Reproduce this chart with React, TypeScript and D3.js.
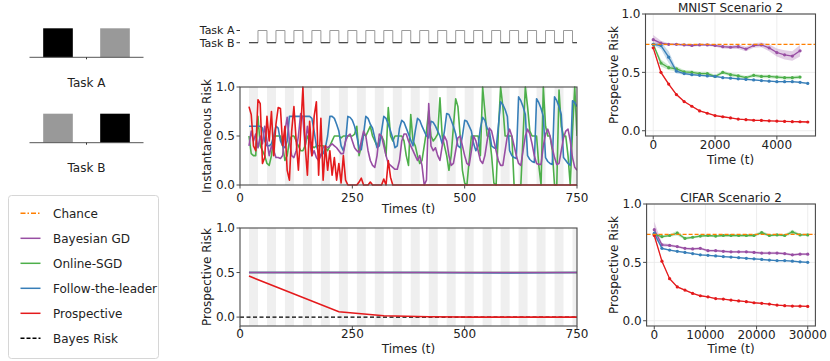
import React from 'react';
import * as d3 from 'd3';

const FONT = "'DejaVu Sans', sans-serif";

const COLORS = {
  chance: '#ff7f00',
  bgd: '#984ea3',
  sgd: '#4daf4a',
  ftl: '#377eb8',
  pro: '#e41a1c',
};

// task schedule, one entry per 20-step block from t = 20 (1 = Task A, 0 = Task B)
const taskBlocks = [
  0, 1, 0, 1, 0, 1, 0, 1, 0, 1, 0, 1, 0, 1, 0, 1, 0, 1, 0,
  1, 0, 1, 0, 1, 0, 1, 0, 1, 0, 1, 0, 1, 0, 1, 0, 1, 0,
];

// icon bars (class probabilities) for the two tasks
const iconHeights = [1, 1];
const iconShadeA = ['#000000', '#999999'];
const iconShadeB = ['#999999', '#000000'];

// instantaneous risk, sampled every 5 steps from t = 20 to 750
const instTimes = d3.range(20, 751, 5);
const instFTL = [
  0.6, 0.6, 0.6, 0.6, 0.6, 0.6, 0.58, 0.45,
  0.4, 0.4, 0.42, 0.5, 0.6, 0.58, 0.45, 0.4,
  0.38, 0.45, 0.7, 0.7, 0.7, 0.7, 0.7, 0.7,
  0.7, 0.7, 0.7, 0.7, 0.68, 0.55, 0.4, 0.33,
  0.3, 0.32, 0.38, 0.5, 0.7, 0.7, 0.68, 0.62,
  0.55, 0.4, 0.35, 0.45, 0.7, 0.69, 0.66, 0.6,
  0.5, 0.38, 0.36, 0.52, 0.7, 0.68, 0.62, 0.58,
  0.48, 0.38, 0.4, 0.55, 0.7, 0.68, 0.62, 0.55,
  0.48, 0.38, 0.4, 0.58, 0.66, 0.64, 0.58, 0.52,
  0.46, 0.4, 0.55, 0.68, 0.66, 0.6, 0.55, 0.5,
  0.48, 0.65, 0.64, 0.6, 0.55, 0.5, 0.42, 0.55,
  0.73, 0.72, 0.66, 0.6, 0.52, 0.4, 0.38, 0.5,
  0.66, 0.65, 0.6, 0.55, 0.42, 0.35, 0.4, 0.58,
  0.69, 0.66, 0.58, 0.55, 0.4, 0.38, 0.37, 0.6,
  0.85, 0.82, 0.77, 0.7, 0.35, 0.3, 0.28, 0.27,
  0.9, 0.86, 0.8, 0.72, 0.3, 0.26, 0.24, 0.23,
  0.88, 0.84, 0.78, 0.7, 0.28, 0.24, 0.22, 0.21,
  0.9, 0.86, 0.8, 0.72, 0.28, 0.25, 0.22, 0.2,
  0.86, 0.84, 0.8,
];
const instSGD = [
  0.5, 0.32, 0.3, 0.3, 0.7, 0.4, 0.35, 0.3,
  0.22, 0.2, 0.3, 0.5, 0.5, 0.5, 0.5, 0.4,
  0.25, 0.3, 0.45, 0.5, 0.5, 0.45, 0.4, 0.35,
  0.35, 0.4, 0.5, 0.45, 0.4, 0.38, 0.4, 0.4,
  0.4, 0.4, 0.38, 0.35, 0.4, 0.45, 0.5, 0.5,
  0.5, 0.48, 0.5, 0.5, 0.5, 0.5, 0.5, 0.52,
  0.6, 0.3, 0.4, 0.52, 0.5, 0.55, 0.6, 0.5,
  0.45, 0.4, 0.45, 0.5, 0.45, 0.3, 0.79, 0.5,
  0.45, 0.5, 0.5, 0.5, 0.5, 0.45, 0.3, 0.2,
  0.72, 0.45, 0.4, 0.3, 0.22, 0.25, 0.4, 0.55,
  0.76, 0.5, 0.45, 0.48, 0.52, 0.89, 0.5, 0.4,
  0.3, 0.15, 0.3, 0.6, 0.88, 0.8, 0.5, 0.15,
  0.02, 0.0, 0.25, 0.5, 0.5, 0.5, 0.5, 0.3,
  1.0, 0.75, 0.5, 0.5, 0.3, 0.02, 0.0, 0.55,
  1.0, 0.8, 0.5, 0.5, 0.5, 0.5, 0.0, 0.0,
  0.0, 0.0, 0.5, 1.0, 0.8, 0.55, 0.5, 0.5,
  0.5, 0.2, 0.0, 1.0, 0.6, 0.5, 0.5, 0.35,
  0.0, 0.0, 0.97, 0.6, 0.5, 0.5, 0.3, 0.0,
  0.55, 1.0, 0.5,
];
const instBGD = [
  0.4, 0.55, 0.45, 0.52, 0.38, 0.5, 0.42, 0.6,
  0.45, 0.3, 0.4, 0.35, 0.28, 0.28, 0.27, 0.3,
  0.55, 0.69, 0.45, 0.3, 0.28, 0.35, 0.5, 0.73,
  0.68, 0.4, 0.6, 0.45, 0.3, 0.35, 0.28, 0.25,
  0.3, 0.38, 0.4, 0.38, 0.4, 0.42, 0.4, 0.38,
  0.35, 0.32, 0.32, 0.45, 0.5, 0.52, 0.45, 0.38,
  0.35, 0.33, 0.45, 0.55, 0.5, 0.35, 0.25, 0.2,
  0.18, 0.3, 0.52, 0.5, 0.4, 0.3, 0.22, 0.2,
  0.18, 0.16, 0.16, 0.25, 0.45, 0.52, 0.52, 0.45,
  0.4, 0.35, 0.3, 0.25, 0.3, 0.2, 0.0, 0.05,
  0.83, 0.4, 0.35, 0.38, 0.3, 0.25, 0.4, 0.5,
  0.45, 0.3, 0.2, 0.22, 0.35, 0.48, 0.5, 0.4,
  0.3, 0.22, 0.2, 0.35, 0.5, 0.45, 0.35, 0.25,
  0.22, 0.3, 0.45, 0.58, 0.55, 0.45, 0.35, 0.25,
  0.2, 0.2, 0.35, 0.5, 0.57, 0.5, 0.4, 0.3,
  0.22, 0.2, 0.35, 0.5, 0.57, 0.52, 0.42, 0.3,
  0.22, 0.21, 0.21, 0.4, 0.52, 0.57, 0.5, 0.38,
  0.28, 0.21, 0.22, 0.35, 0.48, 0.55, 0.57, 0.45,
  0.28, 0.18, 0.15,
];
const instProTimes = [...d3.range(20, 341, 5), 750];
const instPro = [
  0.8, 0.72, 0.4, 0.35, 0.87, 0.83, 0.22, 0.28,
  0.7, 0.45, 0.75, 0.3, 0.62, 0.79, 0.78, 0.4,
  0.6, 0.15, 0.05, 0.55, 0.8, 0.45, 0.15, 0.55,
  1.0, 0.4, 0.1, 0.65, 0.3, 0.7, 0.85, 0.1,
  0.68, 0.05, 0.4, 0.15, 0.35, 0.1, 0.28, 0.05,
  0.22, 0.02, 0.3, 0.05, 0.0, 0.0, 0.0, 0.0,
  0.0, 0.03, 0.07, 0.0, 0.0, 0.0, 0.03, 0.0,
  0.0, 0.0, 0.0, 0.0, 0.06, 0.0, 0.25, 0.08,
  0.0, 0.0,
];

// prospective risk on the synthetic task
const proTimes = [20, 220, 320, 420, 520, 620, 750];
const proPro = [0.46, 0.06, 0.015, 0.003, 0.0, 0.0, 0.0];
const proFlatTimes = [20, 200, 400, 600, 750];
const proBGD = [0.5, 0.5, 0.5, 0.5, 0.5];
const proSGD = [0.5, 0.5, 0.5, 0.5, 0.5];
const proFTL = [0.5, 0.5, 0.5, 0.495, 0.5];

// MNIST scenario 2
const mnTimes = d3.range(0, 5001, 250);
const mnPro = [0.71, 0.5, 0.4, 0.31, 0.25, 0.21, 0.17, 0.15, 0.13, 0.12, 0.11, 0.1, 0.095, 0.09, 0.088, 0.085, 0.083, 0.08, 0.078, 0.077, 0.075];
const mnProErr = [0.015, 0.012, 0.01, 0.008, 0.006, 0.005, 0.005, 0.005, 0.004, 0.004, 0.004, 0.004, 0.004, 0.004, 0.004, 0.004, 0.004, 0.004, 0.004, 0.004, 0.004];
const mnFTL = [0.74, 0.73, 0.63, 0.51, 0.49, 0.48, 0.475, 0.47, 0.465, 0.455, 0.45, 0.445, 0.44, 0.435, 0.43, 0.425, 0.42, 0.42, 0.42, 0.415, 0.405];
const mnFTLErr = [0.01, 0.03, 0.05, 0.02, 0.01, 0.008, 0.006, 0.006, 0.006, 0.006, 0.006, 0.006, 0.006, 0.006, 0.006, 0.006, 0.006, 0.006, 0.006, 0.006, 0.006];
const mnSGD = [0.74, 0.58, 0.54, 0.53, 0.505, 0.5, 0.49, 0.49, 0.465, 0.5, 0.48, 0.47, 0.455, 0.475, 0.465, 0.465, 0.46, 0.455, 0.455, 0.46];
const mnSGDErr = [0.01, 0.03, 0.02, 0.02, 0.015, 0.015, 0.015, 0.015, 0.015, 0.015, 0.015, 0.015, 0.015, 0.015, 0.015, 0.015, 0.015, 0.015, 0.015, 0.015];
const mnBGD = [0.78, 0.75, 0.74, 0.74, 0.735, 0.73, 0.735, 0.735, 0.73, 0.72, 0.715, 0.72, 0.7, 0.73, 0.735, 0.71, 0.67, 0.65, 0.64, 0.685];
const mnBGDErr = [0.04, 0.02, 0.01, 0.01, 0.01, 0.01, 0.01, 0.01, 0.01, 0.015, 0.015, 0.02, 0.02, 0.02, 0.02, 0.03, 0.035, 0.04, 0.04, 0.05];

// CIFAR scenario 2
const cfTimes = d3.range(0, 30001, 1500);
const cfPro = [0.73, 0.51, 0.36, 0.29, 0.263, 0.234, 0.214, 0.205, 0.19, 0.186, 0.177, 0.17, 0.163, 0.154, 0.149, 0.143, 0.134, 0.129, 0.126, 0.125, 0.123];
const cfProErr = [0.01, 0.01, 0.008, 0.006, 0.005, 0.005, 0.005, 0.005, 0.005, 0.005, 0.005, 0.005, 0.005, 0.005, 0.005, 0.005, 0.005, 0.005, 0.005, 0.005, 0.005];
const cfFTL = [0.75, 0.62, 0.605, 0.595, 0.585, 0.575, 0.565, 0.56, 0.555, 0.55, 0.545, 0.54, 0.535, 0.53, 0.525, 0.52, 0.515, 0.515, 0.51, 0.505, 0.5];
const cfFTLErr = [0.02, 0.008, 0.006, 0.006, 0.006, 0.006, 0.006, 0.006, 0.006, 0.006, 0.006, 0.006, 0.006, 0.006, 0.006, 0.006, 0.006, 0.006, 0.006, 0.006, 0.006];
const cfSGD = [0.74, 0.72, 0.73, 0.75, 0.705, 0.715, 0.725, 0.73, 0.725, 0.73, 0.73, 0.73, 0.73, 0.73, 0.755, 0.73, 0.735, 0.73, 0.76, 0.735, 0.735];
const cfSGDErr = [0.015, 0.01, 0.01, 0.02, 0.012, 0.01, 0.01, 0.01, 0.01, 0.01, 0.01, 0.01, 0.01, 0.01, 0.015, 0.01, 0.01, 0.01, 0.02, 0.01, 0.01];
const cfBGD = [0.78, 0.65, 0.645, 0.635, 0.62, 0.615, 0.62, 0.6, 0.6, 0.595, 0.59, 0.59, 0.59, 0.585, 0.58, 0.58, 0.58, 0.575, 0.565, 0.57, 0.57];
const cfBGDErr = [0.07, 0.015, 0.012, 0.01, 0.01, 0.01, 0.01, 0.01, 0.01, 0.01, 0.01, 0.01, 0.01, 0.01, 0.01, 0.01, 0.01, 0.01, 0.01, 0.01, 0.01];

const chanceLevel = 0.74;

const legendItems = [
  { label: 'Chance', color: COLORS.chance, dash: '5,2,1.5,2' },
  { label: 'Bayesian GD', color: COLORS.bgd, dash: '' },
  { label: 'Online-SGD', color: COLORS.sgd, dash: '' },
  { label: 'Follow-the-leader', color: COLORS.ftl, dash: '' },
  { label: 'Prospective', color: COLORS.pro, dash: '' },
  { label: 'Bayes Risk', color: '#000000', dash: '4,2' },
];

const riskTicks = [0, 0.5, 1.0];
const timeTicks = [0, 250, 500, 750];
const mnTicks = [0, 2000, 4000];
const cfTicks = [0, 10000, 20000, 30000];

type Lin = d3.ScaleLinear<number, number>;

const SPINE = '#4a4a4a';

function Axes({ x, y, xTicks, yTicks, xLabel, yLabel, xTickBase, xLabelBase, yLabelX }: {
  x: Lin; y: Lin; xTicks: number[]; yTicks: number[]; xLabel: string; yLabel: string;
  xTickBase: number; xLabelBase: number; yLabelX: number;
}) {
  const [x0, x1] = x.range();
  const [y0, y1] = y.range();
  const fmt = d3.format('.1f');
  return (
    <g fontFamily={FONT} fontSize={12} fill="#222">
      {xTicks.map(t => (
        <g key={'x' + t}>
          <line x1={x(t)} x2={x(t)} y1={y0} y2={y0 + 3.5} stroke={SPINE} strokeWidth={1} />
          <text x={x(t)} y={xTickBase} textAnchor="middle">{t}</text>
        </g>
      ))}
      {yTicks.map(t => (
        <g key={'y' + t}>
          <line x1={x0 - 3.5} x2={x0} y1={y(t)} y2={y(t)} stroke={SPINE} strokeWidth={1} />
          <text x={x0 - 5} y={y(t)} dy="0.36em" textAnchor="end">{fmt(t)}</text>
        </g>
      ))}
      <rect x={x0} y={y1} width={x1 - x0} height={y0 - y1} fill="none" stroke={SPINE} strokeWidth={1.1} />
      <text x={(x0 + x1) / 2} y={xLabelBase} textAnchor="middle">{xLabel}</text>
      <text transform={`translate(${yLabelX},${(y0 + y1) / 2}) rotate(-90)`} textAnchor="middle" dy="0.36em">{yLabel}</text>
    </g>
  );
}

function Grid({ x, y, xTicks, yTicks }: { x: Lin; y: Lin; xTicks: number[]; yTicks: number[] }) {
  const [x0, x1] = x.range();
  const [y0, y1] = y.range();
  return (
    <g stroke="#e8e8e8" strokeWidth={0.8}>
      {xTicks.map(t => <line key={'gx' + t} x1={x(t)} x2={x(t)} y1={y0} y2={y1} />)}
      {yTicks.map(t => <line key={'gy' + t} x1={x0} x2={x1} y1={y(t)} y2={y(t)} />)}
    </g>
  );
}

function TaskBands({ x, y }: { x: Lin; y: Lin }) {
  const [y0, y1] = y.range();
  return (
    <g>
      {taskBlocks.map((b, i) => {
        if (b === 1) return null;
        const t0 = 20 + 20 * i;
        const t1 = Math.min(t0 + 20, 750);
        return <rect key={i} x={x(t0)} y={y1} width={x(t1) - x(t0)} height={y0 - y1} fill="#efefef" />;
      })}
    </g>
  );
}

function series(x: Lin, y: Lin, ts: number[], vs: number[]) {
  return d3.line<number>().x((_, i) => x(ts[i])).y(d => y(d))(vs) || '';
}

function band(x: Lin, y: Lin, ts: number[], vs: number[], es: number[]) {
  return d3.area<number>().x((_, i) => x(ts[i])).y0((d, i) => y(d - es[i])).y1((d, i) => y(d + es[i]))(vs) || '';
}

function Panel({ title, titleBase, x, y, xTicks, xTickBase, xLabelBase, lines }: {
  title: string; titleBase: number; x: Lin; y: Lin; xTicks: number[]; xTickBase: number; xLabelBase: number;
  lines: { t: number[]; v: number[]; e: number[]; c: string }[];
}) {
  const [x0, x1] = x.range();
  return (
    <g>
      <Grid x={x} y={y} xTicks={xTicks} yTicks={riskTicks} />
      {lines.map((s, i) => (
        <path key={'b' + i} d={band(x, y, s.t, s.v, s.e)} fill={s.c} fillOpacity={0.28} stroke="none" />
      ))}
      {lines.map((s, i) => (
        <g key={'l' + i}>
          <path d={series(x, y, s.t, s.v)} fill="none" stroke={s.c} strokeWidth={1.3} />
          {s.v.map((v, j) => <circle key={j} cx={x(s.t[j])} cy={y(v)} r={1.6} fill={s.c} />)}
        </g>
      ))}
      <line x1={x0} x2={x1} y1={y(chanceLevel)} y2={y(chanceLevel)} stroke={COLORS.chance} strokeWidth={1.4} strokeDasharray="4,2" />
      <Axes x={x} y={y} xTicks={xTicks} yTicks={riskTicks} xLabel="Time (t)" yLabel="Prospective Risk"
        xTickBase={xTickBase} xLabelBase={xLabelBase} yLabelX={614} />
      <text x={(x0 + x1) / 2} y={titleBase} textAnchor="middle" fontFamily={FONT} fontSize={12} fill="#222">{title}</text>
    </g>
  );
}

function TaskIcon({ baseY, shades, label, labelBase }: { baseY: number; shades: string[]; label: string; labelBase: number }) {
  const x = d3.scaleLinear().domain([-0.5, 1.5]).range([29.5, 143.5]);
  const h = d3.scaleLinear().domain([0, 1]).range([0, 29]);
  const bw = x(0.26) - x(0);
  return (
    <g>
      {iconHeights.map((v, i) => (
        <rect key={i} x={x(i) - bw} y={baseY - h(v)} width={bw * 2} height={h(v)} fill={shades[i]} />
      ))}
      <line x1={x.range()[0]} x2={x.range()[1]} y1={baseY} y2={baseY} stroke="#555" strokeWidth={1} />
      <line x1={x(0.5)} x2={x(0.5)} y1={baseY} y2={baseY + 2} stroke="#333" strokeWidth={1} />
      <text x={x(0.5)} y={labelBase} textAnchor="middle" fontFamily={FONT} fontSize={12} fill="#222">{label}</text>
    </g>
  );
}

export default function App() {
  const xT = d3.scaleLinear().domain([0, 750]).range([240, 577]);
  const yInst = d3.scaleLinear().domain([0, 1]).range([185, 87]);
  const yPro = d3.scaleLinear().domain([-0.1, 1]).range([326, 228]);

  const yWaveA = 30.5;
  const yWaveB = 42.7;
  let wave = '';
  const lowSegs: [number, number][] = [];
  taskBlocks.forEach((b, i) => {
    const t0 = 20 + 20 * i;
    const t1 = Math.min(t0 + 20, 750);
    const yy = b ? yWaveA : yWaveB;
    wave += `${i === 0 ? 'M' : 'L'}${xT(t0)},${yy}L${xT(t1)},${yy}`;
    if (!b) lowSegs.push([t0, t1]);
  });

  const xMn = d3.scaleLinear().domain([-250, 5250]).range([645.5, 815.5]);
  const yMn = d3.scaleLinear().domain([-0.045, 1]).range([136, 14]);
  const xCf = d3.scaleLinear().domain([-1500, 31500]).range([646.6, 815.4]);
  const yCf = d3.scaleLinear().domain([-0.045, 1]).range([326, 204]);

  return (
    <svg width={830} height={361} style={{ position: 'absolute', left: 0, top: 0, background: '#fff' }}>
      <defs>
        <clipPath id="clipInst"><rect x={240} y={86} width={337} height={100} /></clipPath>
        <clipPath id="clipPro"><rect x={240} y={228} width={337} height={98} /></clipPath>
      </defs>

      {/* task icons */}
      <TaskIcon baseY={57.3} shades={iconShadeA} label="Task A" labelBase={86.5} />
      <TaskIcon baseY={142.7} shades={iconShadeB} label="Task B" labelBase={172} />

      {/* legend */}
      <rect x={8.5} y={195.5} width={150} height={163} rx={3} fill="#fff" stroke="#d6d6d6" strokeWidth={1} />
      {legendItems.map((d, i) => {
        const yy = 213.3 + i * 25;
        return (
          <g key={d.label}>
            <line x1={20.5} x2={40.5} y1={yy} y2={yy} stroke={d.color} strokeWidth={1.5} strokeDasharray={d.dash || undefined} />
            <text x={53} y={yy} dy="0.36em" fontFamily={FONT} fontSize={12} fill="#222">{d.label}</text>
          </g>
        );
      })}

      {/* task schedule */}
      <path d={wave} fill="none" stroke="#9a9a9a" strokeWidth={1} />
      {lowSegs.map(([a, b]) => (
        <line key={a} x1={xT(a)} x2={xT(b)} y1={yWaveB} y2={yWaveB} stroke="#333" strokeWidth={1} />
      ))}
      <g fontFamily={FONT} fontSize={11} fill="#222">
        <text x={234.5} y={29.8} dy="0.36em" textAnchor="end">Task A</text>
        <text x={234.5} y={43.2} dy="0.36em" textAnchor="end">Task B</text>
      </g>
      <line x1={236.5} x2={240} y1={yWaveA} y2={yWaveA} stroke="#333" />
      <line x1={236.5} x2={240} y1={yWaveB} y2={yWaveB} stroke="#333" />

      {/* instantaneous risk */}
      <TaskBands x={xT} y={yInst} />
      <g clipPath="url(#clipInst)" fill="none" strokeWidth={1.6} strokeLinejoin="round">
        <path d={series(xT, yInst, instTimes, instSGD)} stroke={COLORS.sgd} />
        <path d={series(xT, yInst, instTimes, instFTL)} stroke={COLORS.ftl} />
        <path d={series(xT, yInst, instTimes, instBGD)} stroke={COLORS.bgd} />
        <path d={series(xT, yInst, instProTimes, instPro)} stroke={COLORS.pro} />
      </g>
      <Axes x={xT} y={yInst} xTicks={timeTicks} yTicks={riskTicks} xLabel="Times (t)" yLabel="Instantaneous Risk"
        xTickBase={201.5} xLabelBase={212.5} yLabelX={207} />

      {/* prospective risk, synthetic */}
      <TaskBands x={xT} y={yPro} />
      <g clipPath="url(#clipPro)" fill="none" strokeWidth={1.6}>
        <line x1={240} x2={577} y1={yPro(0)} y2={yPro(0)} stroke="#000" strokeWidth={1.1} strokeDasharray="4,2.5" />
        <path d={series(xT, yPro, proFlatTimes, proSGD)} stroke={COLORS.sgd} />
        <path d={series(xT, yPro, proFlatTimes, proFTL)} stroke={COLORS.ftl} />
        <path d={series(xT, yPro, proFlatTimes, proBGD)} stroke={COLORS.bgd} />
        <path d={series(xT, yPro, proTimes, proPro)} stroke={COLORS.pro} />
      </g>
      <Axes x={xT} y={yPro} xTicks={timeTicks} yTicks={riskTicks} xLabel="Times (t)" yLabel="Prospective Risk"
        xTickBase={337.5} xLabelBase={352.5} yLabelX={207} />

      {/* MNIST */}
      <Panel title="MNIST Scenario 2" titleBase={11.5} x={xMn} y={yMn} xTicks={mnTicks} xTickBase={148.5} xLabelBase={163.5}
        lines={[
          { t: mnTimes, v: mnBGD, e: mnBGDErr, c: COLORS.bgd },
          { t: mnTimes, v: mnSGD, e: mnSGDErr, c: COLORS.sgd },
          { t: mnTimes, v: mnFTL, e: mnFTLErr, c: COLORS.ftl },
          { t: mnTimes, v: mnPro, e: mnProErr, c: COLORS.pro },
        ]} />

      {/* CIFAR */}
      <Panel title="CIFAR Scenario 2" titleBase={201.5} x={xCf} y={yCf} xTicks={cfTicks} xTickBase={338.5} xLabelBase={353}
        lines={[
          { t: cfTimes, v: cfBGD, e: cfBGDErr, c: COLORS.bgd },
          { t: cfTimes, v: cfSGD, e: cfSGDErr, c: COLORS.sgd },
          { t: cfTimes, v: cfFTL, e: cfFTLErr, c: COLORS.ftl },
          { t: cfTimes, v: cfPro, e: cfProErr, c: COLORS.pro },
        ]} />
    </svg>
  );
}
